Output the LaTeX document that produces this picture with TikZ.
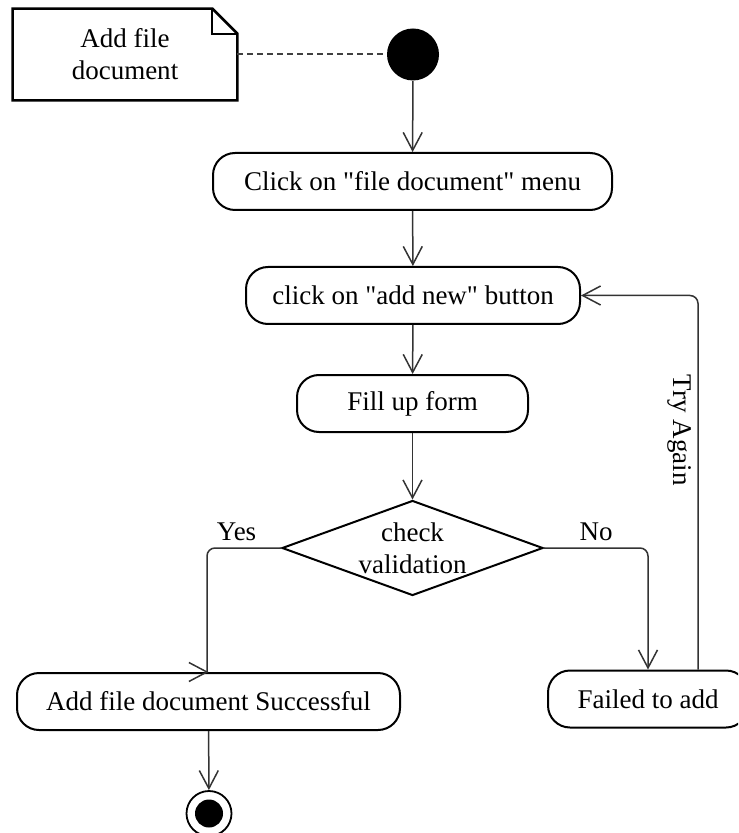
\documentclass[tikz,border=0pt]{standalone}
\usepackage{fontspec}
\setmainfont{Liberation Serif}
\usetikzlibrary{shapes.geometric,arrows.meta}

\begin{document}
\begin{tikzpicture}[x=0.5pt,y=-0.5pt,font=\fontsize{13.5}{16}\selectfont]
% Les styles du diagramme d'activité
\tikzstyle{trait}=[line width=0.75pt,draw=black!80,rounded corners=4pt]
\tikzstyle{fleche}=[trait,-{Straight Barb[length=9pt,width=9.5pt]}]
\tikzstyle{activite}=[draw,rectangle,rounded corners=11pt,line width=1pt,minimum height=28.5pt,inner sep=0pt]
\tikzstyle{decision}=[draw,diamond,line width=1pt,minimum width=130.5pt,minimum height=47.5pt,inner sep=0pt]
\tikzstyle{garde}=[inner sep=3pt]

\clip (0,0) rectangle (738,833);

% La note et l'état initial
\node[minimum width=112pt,minimum height=45.5pt,align=center] (note) at (125,54.5) {Add file\\document};
\draw[line width=1.3pt] (note.north west) -- ([xshift=-12.5pt]note.north east)
    -- ([yshift=-12.5pt]note.north east) -- (note.south east) -- (note.south west) -- cycle;
\draw[line width=1pt] ([xshift=-12.5pt]note.north east) |- ([yshift=-12.5pt]note.north east);
\node[circle,fill=black,minimum size=26pt,inner sep=0pt] (debut) at (413,54.5) {};
\draw[dash pattern=on 3pt off 2pt,line width=1pt,black!75] (note.east) -- (debut);

% Les activités
\foreach \x/\y/\larg/\nom/\texte in {412.5/181.5/199.5/menu/{Click on \textquotedbl file document\textquotedbl\ menu},
                                    413/295.5/167/ajout/{click on \textquotedbl add new\textquotedbl\ button},
                                    412.5/403.5/115.5/form/{Fill up form},
                                    208.5/701.5/191.5/succes/{Add file document Successful},
                                    648/699/100/echec/{Failed to add}}{
    \node[activite,minimum width=\larg pt] (\nom) at (\x,\y) {\texte};
}

% Le test et l'état final
\node[decision,label={[align=center]center:check\\validation}] (check) at (412.5,548) {};
\node[circle,draw,line width=0.9pt,minimum size=22.5pt,inner sep=0pt,
      path picture={\fill (path picture bounding box.center) circle (7pt);}] (fin) at (209,813.5) {};

% Les transitions
\draw[fleche] (debut) -- (menu);
\draw[fleche] (menu) -- (ajout);
\draw[fleche] (ajout) -- (form);
\draw[fleche] (form) -- (check);
\draw[trait] (check.west) -| node[garde,pos=0.3,above] {Yes} ([xshift=-0.75pt]succes.north);
\draw[fleche] ([xshift=-1.5pt]succes.north) -- (succes.north);
\draw[fleche] (check.east) -| node[garde,pos=0.25,above] {No} (echec.north);
\draw[fleche] ([xshift=25pt]echec.north) |- node[garde,pos=0.32,rotate=-90,anchor=north] {Try Again} (ajout.east);
\draw[fleche] (succes) -- (fin);
\end{tikzpicture}
\end{document}
